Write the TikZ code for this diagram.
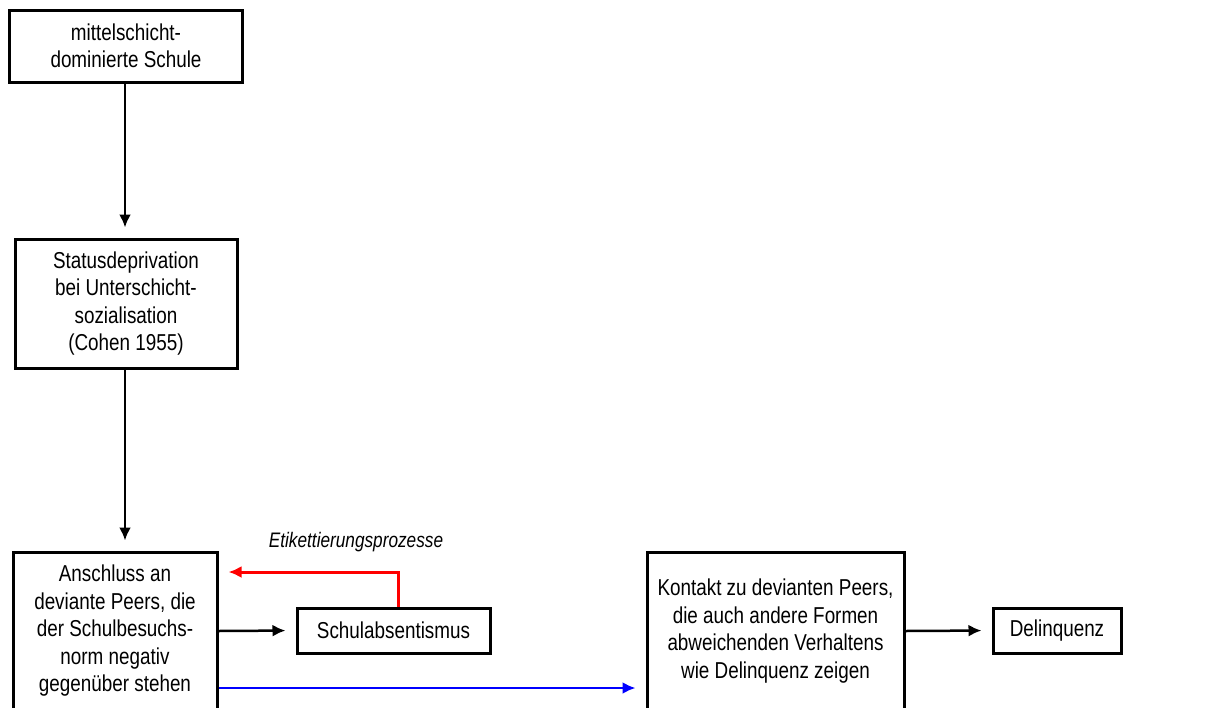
\documentclass[tikz,border=0pt]{standalone}
\usepackage{fontspec}
\setmainfont{Liberation Sans}[FakeStretch=0.82]
\usetikzlibrary{arrows.meta}
\begin{document}
\begin{tikzpicture}[x=1pt,y=-1pt,
  box/.style={draw=black,line width=3pt,align=center,inner sep=0pt,
    font=\fontsize{23}{27.5}\selectfont},
  conn/.style={line width=2.5pt,-{Latex[length=13pt,width=12pt]},shorten >=10pt}]
\clip (0,0) rectangle (1215,707);
\fill[white] (0,0) rectangle (1215,707);

\node[box,minimum width=233pt,minimum height=72pt] (top) at (126,46)
  {mittelschicht-\\dominierte Schule};
\node[box,minimum width=222pt,minimum height=129pt] (status) at (126,303.5)
  {Statusdeprivation\\bei Unterschicht-\\sozialisation\\(Cohen 1955)};
\node[box,minimum width=204pt,minimum height=158pt] (anschluss) at (115,631)
  {Anschluss an\\deviante Peers, die\\der Schulbesuchs-\\norm negativ\\gegenüber stehen};
\node[box,minimum width=193pt,minimum height=45pt] (absent) at (393.5,630.5)
  {Schulabsentismus};
\node[box,minimum width=257pt,minimum height=158pt] (kontakt) at (775.5,631)
  {Kontakt zu devianten Peers,\\die auch andere Formen\\abweichenden Verhaltens\\wie Delinquenz zeigen};
\node[box,minimum width=128pt,minimum height=45pt] (delin) at (1057,630.5)
  {Delinquenz};
\node[font=\fontsize{21}{24}\selectfont\itshape] (etik) at (356,542)
  {Etikettierungsprozesse};

\draw[conn] ([xshift=-1pt]top.south) -- ([xshift=-1pt]status.north);
\draw[conn] ([xshift=-1pt]status.south) -- ([xshift=-1pt]status.south |- anschluss.north);
\draw[conn] (anschluss.east) -- (absent.west);
\draw[conn,red,line width=3pt] ([xshift=4.5pt]absent.north) |- ([yshift=59pt]anschluss.east);
\draw[conn,blue] ([yshift=-57pt]anschluss.east) -- ([yshift=-57pt]kontakt.west);
\draw[conn] (kontakt.east) -- (delin.west);
\end{tikzpicture}
\end{document}
